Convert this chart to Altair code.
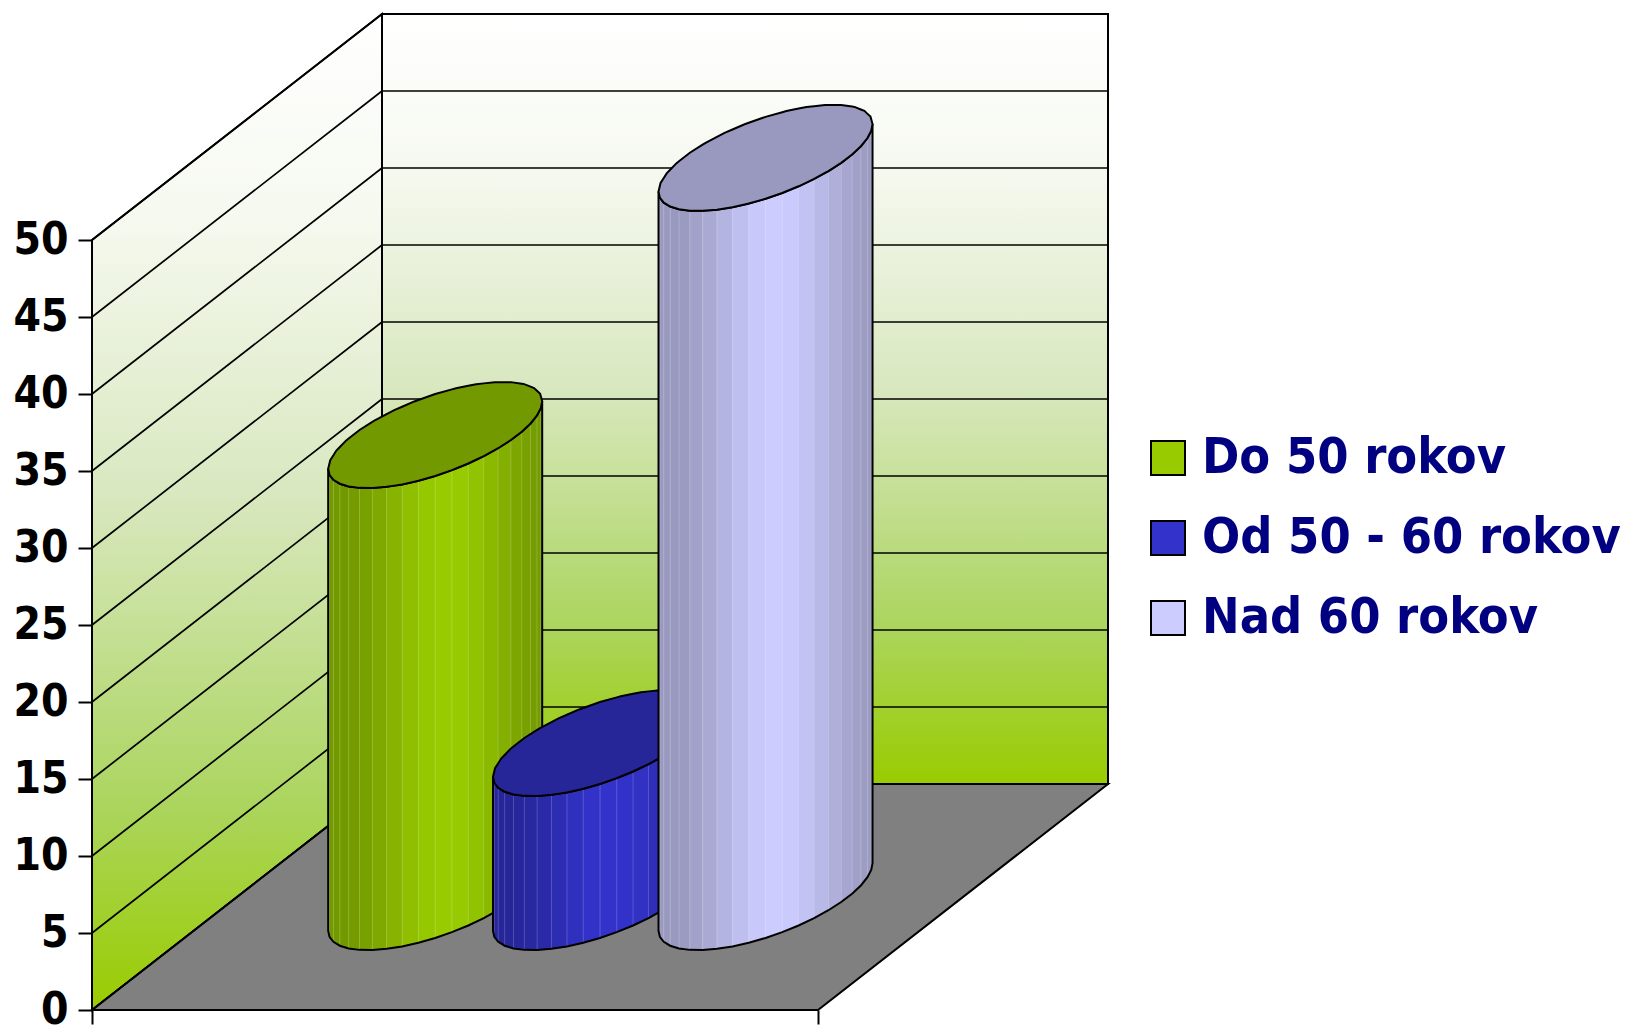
import numpy as np
import pandas as pd
import altair as alt

series = ["Do 50 rokov", "Od 50 - 60 rokov", "Nad 60 rokov"]
values = [30, 10, 48]
colors = ["#99cc00", "#3333cc", "#ccccff"]
tops = ["#739900", "#262699", "#9999bf"]
ticks = list(range(0, 55, 5))

PX_PER_UNIT = 15.4
PLOT_H = 1002
PLOT_W = 1532
FLOOR_W = 726
DEPTH_X = 290
DEPTH_Y = 226 / PX_PER_UNIT
MAXV = 50
slots = [0.273, 0.5, 0.728]
Ru = 82.5
HALF_DEPTH = 0.235
FONT = "DejaVu Sans Condensed, Tahoma, DejaVu Sans"


def edges(cx, base):
    dx = HALF_DEPTH * DEPTH_X
    dy = HALF_DEPTH * DEPTH_Y
    t0 = np.arctan2(dx, Ru)
    tu = np.linspace(t0, t0 + np.pi, 17)
    tl = np.linspace(t0 + np.pi, t0 + 2 * np.pi, 21)
    pt = lambda t: (cx + Ru * np.cos(t) + dx * np.sin(t), base + dy * np.sin(t))
    xu, yu = pt(tu)
    xl, yl = pt(tl)
    return xu[::-1], yu[::-1], xl, yl


layers = []
wash = alt.Gradient(
    gradient="linear",
    stops=[
        alt.GradientStop(color="#ffffff", offset=0),
        alt.GradientStop(color="#f6f9f0", offset=0.2),
        alt.GradientStop(color="#d9e8c0", offset=0.48),
        alt.GradientStop(color="#acd560", offset=0.79),
        alt.GradientStop(color="#99cc00", offset=1),
    ],
    x1=0, x2=0, y1=0, y2=1,
)
sc_x = alt.Scale(domain=[0, PLOT_W], range=[0, PLOT_W], nice=False, zero=False)
sc_y = alt.Scale(domain=[0, PLOT_H / PX_PER_UNIT], nice=False, zero=False)
X = alt.X("x:Q", scale=sc_x, title=None,
          axis=alt.Axis(values=[0, FLOOR_W], labels=False, tickSize=14, tickWidth=2, tickColor="black",
                        domain=False, grid=False))
Y = alt.Y("y:Q", scale=sc_y, title=None,
          axis=alt.Axis(values=ticks, tickSize=14, tickWidth=2, tickColor="black", domain=False, grid=False,
                        labelFont=FONT, labelFontSize=44, labelFontWeight="bold", labelColor="black",
                        labelPadding=10, labelBaseline="middle"))

back = pd.DataFrame({"x": [DEPTH_X, DEPTH_X + FLOOR_W], "y": [DEPTH_Y] * 2, "y2": [MAXV + DEPTH_Y] * 2})
side = pd.DataFrame({"x": [0, DEPTH_X], "y": [0, DEPTH_Y], "y2": [MAXV, MAXV + DEPTH_Y]})
floor = pd.DataFrame({"x": [0, DEPTH_X, FLOOR_W, FLOOR_W + DEPTH_X],
                      "y": [0, DEPTH_Y, DEPTH_Y, DEPTH_Y],
                      "y2": [0, 0, 0, DEPTH_Y]})
for df, fill in [(back, wash), (side, wash), (floor, "#808080")]:
    layers.append(alt.Chart(df).mark_area(color=fill, stroke="black", strokeWidth=2)
                  .encode(x=X, y=Y, y2="y2:Q"))

rows = []
for v in ticks:
    rows += [dict(level=f"s{v}", x=0, y=v), dict(level=f"s{v}", x=DEPTH_X, y=v + DEPTH_Y),
             dict(level=f"b{v}", x=DEPTH_X, y=v + DEPTH_Y), dict(level=f"b{v}", x=DEPTH_X + FLOOR_W, y=v + DEPTH_Y)]
layers.append(alt.Chart(pd.DataFrame(rows)).mark_line(color="black", strokeWidth=1.7)
              .encode(x="x:Q", y="y:Q", detail="level:N"))

legend = alt.Legend(orient="none", legendX=1051, legendY=425, title=None, symbolType="square", symbolSize=1156,
                    symbolStrokeColor="black", symbolStrokeWidth=2, symbolOpacity=1,
                    labelFont=FONT, labelFontSize=50, labelFontWeight="bold", labelColor="#000080",
                    labelOffset=9, rowPadding=30, labelLimit=600)
color_scale = alt.Scale(domain=series, range=colors)


def hexmul(col, f):
    r, g, b = [int(col[i:i + 2], 16) for i in (1, 3, 5)]
    return "#%02x%02x%02x" % (round(r * f), round(g * f), round(b * f))


for name, val, col, top, slot in zip(series, values, colors, tops, slots):
    cx = slot * FLOOR_W + 0.5 * DEPTH_X
    base = 0.5 * DEPTH_Y
    xu, yu, xl, yl = edges(cx, base)
    grid = np.unique(np.concatenate([xu, xl]))
    upper = np.interp(grid, xu, yu)
    lower = np.interp(grid, xl, yl)

    body = pd.DataFrame({"x": xl, "y": yl, "y2": yl + val, "series": name})
    layers.append(alt.Chart(body).mark_area().encode(
        x="x:Q", y="y:Q", y2="y2:Q",
        color=alt.Color("series:N", scale=color_scale, legend=legend, sort=series)))

    strips = []
    seams = []
    left, right = xl[0], xl[-1]
    for i in range(len(xl) - 1):
        p = ((xl[i] + xl[i + 1]) / 2 - left) / (right - left)
        shade = hexmul(col, 0.75 + 0.25 * np.cos(np.pi * (p - 0.55)) ** 2)
        strips += [dict(strip=i, x=xl[i], y=yl[i], y2=yl[i] + val, shade=shade),
                   dict(strip=i, x=xl[i + 1], y=yl[i + 1], y2=yl[i + 1] + val, shade=shade)]
        if i:
            seams.append(dict(x=xl[i], y=yl[i], y2=yl[i] + val))
    layers.append(alt.Chart(pd.DataFrame(strips)).mark_area(strokeWidth=0.4).encode(
        x="x:Q", y="y:Q", y2="y2:Q",
        fill=alt.Fill("shade:N", scale=None, legend=None),
        stroke=alt.Stroke("shade:N", scale=None, legend=None),
        detail="strip:N"))
    layers.append(alt.Chart(pd.DataFrame(seams)).mark_rule(color="#ffffff", opacity=0.25, strokeWidth=0.8)
                  .encode(x="x:Q", y="y:Q", y2="y2:Q"))
    layers.append(alt.Chart(body).mark_area(fillOpacity=0, fill="white", stroke="black", strokeWidth=2)
                  .encode(x="x:Q", y="y:Q", y2="y2:Q"))
    cap = pd.DataFrame({"x": grid, "y": lower + val, "y2": upper + val})
    layers.append(alt.Chart(cap).mark_area(color=top, stroke="black", strokeWidth=2)
                  .encode(x="x:Q", y="y:Q", y2="y2:Q"))

chart = alt.layer(*layers).properties(
    width=PLOT_W, height=PLOT_H,
    autosize=alt.AutoSizeParams(type="none"),
    padding={"left": 84, "top": 0, "right": 0, "bottom": 17},
    background="white",
).configure_view(strokeWidth=0)

chart.save("out.html", embed_options={"renderer": "svg", "actions": False})
